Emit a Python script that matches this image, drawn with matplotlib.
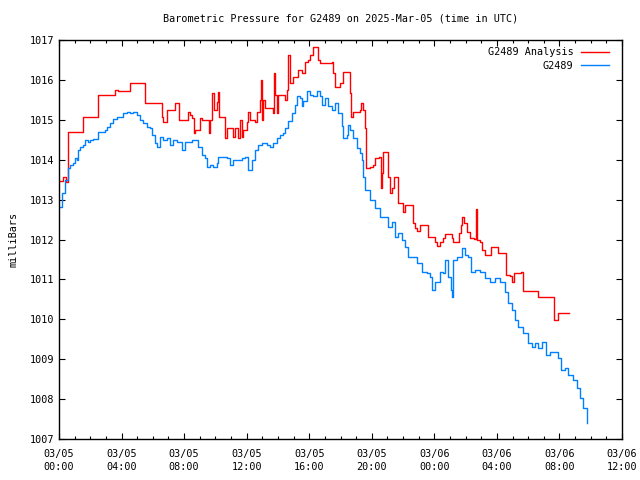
import numpy as np
import matplotlib
matplotlib.use("Agg")
import matplotlib.pyplot as plt
from matplotlib.ticker import MultipleLocator, FixedLocator
from datetime import datetime, timedelta

# hours after 2025-03-05 00:00 UTC
obs_hours = [0.00, 0.19, 0.38, 0.58, 0.70, 0.90, 1.02, 1.15, 1.21, 1.34, 1.53, 1.66, 1.85, 1.98,
             2.17, 2.43, 2.49, 2.94, 3.07, 3.26, 3.45, 3.71, 3.90, 4.09, 4.35, 4.54, 4.73, 4.99,
             5.18, 5.37, 5.63, 5.82, 5.95, 6.14, 6.27, 6.46, 6.65, 6.91, 7.10, 7.29, 7.54, 7.86,
             8.06, 8.25, 8.50, 8.70, 8.89, 9.14, 9.34, 9.46, 9.65, 9.85, 10.10, 10.17, 10.42,
             10.74, 10.93, 11.13, 11.45, 11.70, 11.89, 12.08, 12.34, 12.53, 12.72, 12.98, 13.30,
             13.49, 13.68, 13.94, 14.13, 14.32, 14.45, 14.64, 14.90, 15.09, 15.22, 15.41, 15.54,
             15.60, 15.86, 16.05, 16.24, 16.50, 16.69, 16.82, 17.01, 17.20, 17.46, 17.65, 17.84,
             18.09, 18.16, 18.41, 18.48, 18.61, 18.80, 19.05, 19.25, 19.37, 19.44, 19.57, 19.88,
             20.20, 20.52, 20.84, 21.04, 21.29, 21.48, 21.68, 21.93, 22.12, 22.31, 22.57, 22.89,
             23.21, 23.53, 23.72, 23.85, 24.04, 24.36, 24.55, 24.68, 24.87, 25.06, 25.13, 25.19,
             25.45, 25.77, 25.96, 26.15, 26.34, 26.60, 26.92, 27.24, 27.56, 27.88, 28.20, 28.52,
             28.71, 28.96, 29.16, 29.35, 29.67, 29.99, 30.24, 30.43, 30.63, 30.88, 31.14, 31.39,
             31.71, 31.91, 32.10, 32.35, 32.54, 32.86, 33.12, 33.31, 33.50, 33.76]
obs_mb = [1012.81, 1013.17, 1013.49, 1013.79, 1013.87, 1013.92, 1014.04, 1013.99, 1014.24, 1014.32,
          1014.37, 1014.49, 1014.44, 1014.49, 1014.52, 1014.52, 1014.69, 1014.74, 1014.82, 1014.92,
          1015.02, 1015.07, 1015.07, 1015.17, 1015.19, 1015.17, 1015.19, 1015.12, 1014.99, 1014.92,
          1014.82, 1014.79, 1014.62, 1014.42, 1014.32, 1014.57, 1014.49, 1014.54, 1014.37, 1014.49,
          1014.44, 1014.24, 1014.44, 1014.44, 1014.49, 1014.49, 1014.32, 1014.12, 1014.04, 1013.82,
          1013.87, 1013.82, 1013.92, 1014.07, 1014.07, 1014.04, 1013.87, 1013.99, 1013.99, 1014.04,
          1014.07, 1013.74, 1013.99, 1014.24, 1014.37, 1014.42, 1014.37, 1014.32, 1014.42, 1014.54,
          1014.62, 1014.67, 1014.79, 1014.97, 1015.17, 1015.37, 1015.60, 1015.55, 1015.34, 1015.47,
          1015.72, 1015.62, 1015.60, 1015.72, 1015.60, 1015.37, 1015.55, 1015.34, 1015.24, 1015.42,
          1015.17, 1014.84, 1014.54, 1014.62, 1014.87, 1014.74, 1014.54, 1014.29, 1014.17, 1013.99,
          1013.57, 1013.24, 1012.99, 1012.79, 1012.56, 1012.56, 1012.31, 1012.44, 1012.06, 1012.16,
          1011.99, 1011.81, 1011.56, 1011.56, 1011.41, 1011.18, 1011.16, 1011.06, 1010.73, 1010.93,
          1011.18, 1011.16, 1011.49, 1011.06, 1010.73, 1010.56, 1011.49, 1011.56, 1011.79, 1011.61,
          1011.56, 1011.18, 1011.24, 1011.18, 1011.03, 1010.93, 1011.03, 1010.93, 1010.68, 1010.41,
          1010.23, 1009.98, 1009.81, 1009.66, 1009.41, 1009.31, 1009.41, 1009.28, 1009.43, 1009.11,
          1009.18, 1009.18, 1009.03, 1008.73, 1008.78, 1008.60, 1008.48, 1008.28, 1008.03, 1007.78,
          1007.40]

ana_hours = [0.00, 0.26, 0.45, 0.58, 1.53, 2.49, 3.58, 3.77, 4.54, 5.50, 6.59, 6.65, 6.91, 7.42,
             7.67, 8.25, 8.38, 8.50, 8.63, 8.70, 9.02, 9.14, 9.59, 9.65, 9.78, 9.91, 10.10, 10.17,
             10.23, 10.61, 10.74, 11.13, 11.25, 11.45, 11.57, 11.70, 11.76, 12.02, 12.08, 12.21,
             12.53, 12.66, 12.85, 12.92, 12.98, 13.04, 13.17, 13.68, 13.75, 13.81, 13.94, 14.00,
             14.45, 14.58, 14.64, 14.77, 14.96, 15.28, 15.54, 15.73, 15.92, 16.05, 16.24, 16.56,
             16.69, 17.46, 17.52, 17.65, 17.97, 18.16, 18.61, 18.67, 18.80, 19.25, 19.31, 19.44,
             19.57, 19.63, 19.88, 20.08, 20.20, 20.46, 20.59, 20.65, 20.72, 20.97, 21.04, 21.16,
             21.29, 21.42, 21.61, 21.68, 22.00, 22.12, 22.51, 22.63, 22.76, 22.89, 23.08, 23.47,
             23.59, 24.04, 24.17, 24.36, 24.55, 24.68, 25.13, 25.19, 25.58, 25.70, 25.77, 25.90,
             26.09, 26.28, 26.53, 26.66, 26.73, 26.92, 27.05, 27.24, 27.62, 28.01, 28.07, 28.58,
             28.84, 28.96, 29.09, 29.54, 29.67, 30.56, 30.63, 31.52, 31.65, 31.84, 31.91, 32.61]
ana_mb = [1013.47, 1013.57, 1013.44, 1014.69, 1015.07, 1015.62, 1015.75, 1015.72, 1015.92, 1015.42,
          1015.07, 1014.94, 1015.24, 1015.42, 1014.99, 1015.19, 1015.12, 1015.04, 1014.67, 1014.74,
          1015.04, 1014.99, 1014.67, 1014.99, 1015.67, 1015.24, 1015.44, 1015.70, 1015.07, 1014.54,
          1014.79, 1014.57, 1014.79, 1014.54, 1014.99, 1014.57, 1014.74, 1014.94, 1015.19, 1014.99,
          1014.94, 1015.19, 1015.50, 1016.00, 1014.99, 1015.50, 1015.29, 1015.17, 1016.17, 1015.62,
          1015.17, 1015.62, 1015.50, 1015.75, 1016.62, 1015.92, 1016.07, 1016.25, 1016.17, 1016.45,
          1016.50, 1016.62, 1016.82, 1016.50, 1016.42, 1016.45, 1016.17, 1015.82, 1015.92, 1016.20,
          1015.67, 1015.07, 1015.19, 1015.24, 1015.42, 1015.24, 1014.79, 1013.79, 1013.82, 1013.87,
          1014.04, 1014.07, 1013.29, 1013.67, 1014.19, 1014.19, 1013.57, 1013.16, 1013.29, 1013.57,
          1013.57, 1012.91, 1012.69, 1012.86, 1012.86, 1012.41, 1012.29, 1012.21, 1012.36, 1012.36,
          1012.06, 1011.94, 1011.84, 1011.94, 1012.04, 1012.14, 1012.04, 1011.94, 1012.16, 1012.36,
          1012.56, 1012.41, 1012.19, 1012.04, 1012.01, 1012.76, 1011.99, 1011.94, 1011.74, 1011.61,
          1011.81, 1011.81, 1011.66, 1011.11, 1011.08, 1010.93, 1011.16, 1011.18, 1010.71, 1010.71,
          1010.56, 1010.56, 1009.98, 1009.98, 1010.16, 1010.16]

start = datetime(2025, 3, 5, 0, 0)
tick_hours = list(range(0, 37, 4))
tick_labels = [(start + timedelta(hours=h)).strftime("%m/%d\n%H:%M") for h in tick_hours]

plt.rcParams["font.family"] = ["DejaVu Sans Mono"]
fs = 7.3

fig = plt.figure(figsize=(6.4, 4.8), dpi=100)
ax = fig.add_axes([59 / 640, 41 / 480, 563 / 640, 399 / 480])

ax.plot(ana_hours, ana_mb, color="#ff0000", lw=1.0, drawstyle="steps-post",
        label="G2489 Analysis")
ax.plot(obs_hours, obs_mb, color="#0080ff", lw=1.0, drawstyle="steps-post",
        label="G2489")

ax.set_xlim(0, 36)
ax.set_ylim(1007, 1017)
ax.xaxis.set_major_locator(FixedLocator(tick_hours))
ax.set_xticklabels(tick_labels, linespacing=1.45)
ax.xaxis.set_minor_locator(MultipleLocator(1))
ax.yaxis.set_major_locator(MultipleLocator(1))
ax.tick_params(which="both", direction="in", top=True, right=True, labelsize=fs, width=0.8)
ax.tick_params(which="major", length=4.5)
ax.tick_params(which="minor", length=2.5)
ax.tick_params(axis="x", pad=7)
for sp in ax.spines.values():
    sp.set_linewidth(1.0)

ax.set_ylabel("milliBars", fontsize=fs, labelpad=8)
ax.set_title("Barometric Pressure for G2489 on 2025-Mar-05 (time in UTC)", fontsize=fs, pad=13)

leg = ax.legend(loc="upper right", bbox_to_anchor=(0.977, 0.982), frameon=False,
                markerfirst=False, fontsize=fs, handlelength=2.8, handletextpad=0.7,
                labelspacing=0.35, borderaxespad=0.0, borderpad=0.0, alignment="right")
for t in leg.get_texts():
    t.set_ha("right")

fig.savefig("out.png", dpi=100)
